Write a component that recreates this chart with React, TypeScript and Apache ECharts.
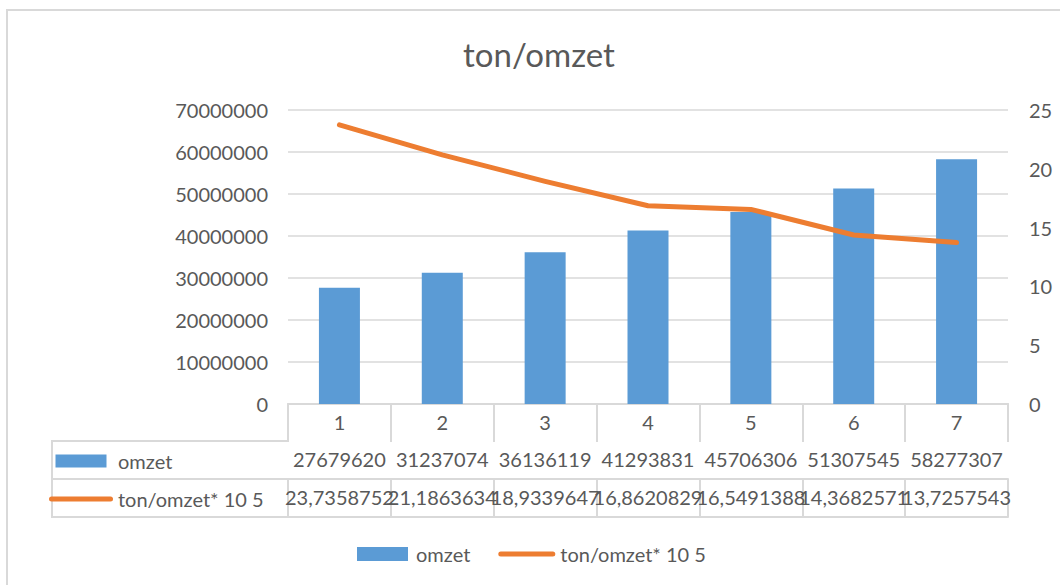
import React, { useEffect, useRef } from "react";
import * as echarts from "echarts";

const categories = ["1", "2", "3", "4", "5", "6", "7"];
const omzet = [27679620, 31237074, 36136119, 41293831, 45706306, 51307545, 58277307];
const tonOmzet = [23.7358752, 21.1863634, 18.9339647, 16.8620829, 16.5491388, 14.3682571, 13.7257543];
const seriesNames = ["omzet", "ton/omzet* 10 5"];
const leftTicks = { min: 0, max: 70000000, interval: 10000000 };
const rightTicks = { min: 0, max: 25, interval: 5 };

const BLUE = "#5B9BD5";
const ORANGE = "#ED7D31";
const GRID = "#D9D9D9";
const TEXT = "#595959";
const FONT = "Lato";

const fmtComma = (v: number) => String(v).replace(".", ",");

export default function App() {
  const ref = useRef<HTMLDivElement>(null);
  useEffect(() => {
    if (!ref.current) return;
    const chart = echarts.init(ref.current, undefined, { renderer: "svg" });
    const tableLine = { color: GRID, width: 2 };
    const label = { fontFamily: FONT, fontSize: 20, color: TEXT };
    const barIconBottom = "path://M0,0 H51 V14 H0 Z";
    const lineIconBottom = "path://M2.5,0 H54.5 A2.5,2.5 0 0 1 54.5,5 H2.5 A2.5,2.5 0 0 1 2.5,0 Z";
    const barIconTable = "path://M0,0 H51 V13 H0 Z";
    const lineIconTable = "path://M2.5,0 H61.5 A2.5,2.5 0 0 1 61.5,5 H2.5 A2.5,2.5 0 0 1 2.5,0 Z";
    chart.setOption({
      animation: false,
      textStyle: { fontFamily: FONT },
      title: {
        text: "ton/omzet",
        left: 539,
        textAlign: "center",
        top: 37,
        padding: 0,
        textStyle: { fontFamily: FONT, fontSize: 33, fontWeight: "normal", color: TEXT },
      },
      grid: { left: 288, right: 52, top: 110, bottom: 181, containLabel: false },
      legend: [
        {
          left: 357,
          top: 544,
          padding: 0,
          itemWidth: 57,
          itemHeight: 14,
          itemGap: 28,
          textStyle: label,
          data: [
            { name: seriesNames[0], icon: barIconBottom, itemStyle: { color: BLUE, borderWidth: 0 } },
            { name: seriesNames[1], icon: lineIconBottom, itemStyle: { color: ORANGE, borderWidth: 0 } },
          ],
        },
        {
          left: 49,
          top: 451,
          padding: 0,
          orient: "vertical",
          itemWidth: 64,
          itemHeight: 13,
          itemGap: 18,
          textStyle: label,
          data: [
            { name: seriesNames[0], icon: barIconTable, itemStyle: { color: BLUE, borderWidth: 0 } },
            { name: seriesNames[1], icon: lineIconTable, itemStyle: { color: ORANGE, borderWidth: 0 } },
          ],
        },
      ],
      xAxis: [
        {
          type: "category",
          data: categories,
          position: "bottom",
          axisLine: { show: true, lineStyle: tableLine },
          axisTick: { show: true, length: 37, interval: 0, lineStyle: tableLine },
          axisLabel: { ...label, margin: 8, interval: 0 },
        },
        {
          type: "category",
          data: omzet.map(String),
          position: "bottom",
          offset: 37,
          axisLine: { show: true, lineStyle: tableLine },
          axisTick: { show: true, length: 38, interval: 0, lineStyle: tableLine },
          axisLabel: { ...label, margin: 8, interval: 0 },
        },
        {
          type: "category",
          data: tonOmzet.map(fmtComma),
          position: "bottom",
          offset: 75,
          axisLine: { show: true, lineStyle: tableLine },
          axisTick: { show: true, length: 38, interval: 0, lineStyle: tableLine },
          axisLabel: { ...label, margin: 8, interval: 0 },
        },
        {
          type: "category",
          data: categories,
          position: "bottom",
          offset: 113,
          axisLine: { show: true, lineStyle: tableLine },
          axisTick: { show: false },
          axisLabel: { show: false },
        },
      ],
      yAxis: [
        {
          type: "value",
          position: "left",
          ...leftTicks,
          axisLine: { show: false },
          axisTick: { show: false },
          axisLabel: { ...label, margin: 20, formatter: (v: number) => String(v) },
          splitLine: { show: true, lineStyle: { color: GRID, width: 1.5 } },
        },
        {
          type: "value",
          position: "right",
          ...rightTicks,
          axisLine: { show: false },
          axisTick: { show: false },
          axisLabel: { ...label, margin: 21, formatter: (v: number) => String(v) },
          splitLine: { show: false },
        },
      ],
      series: [
        {
          name: seriesNames[0],
          type: "bar",
          xAxisIndex: 0,
          yAxisIndex: 0,
          data: omzet,
          barWidth: 41,
          itemStyle: { color: BLUE },
          z: 2,
        },
        {
          name: seriesNames[1],
          type: "line",
          xAxisIndex: 0,
          yAxisIndex: 1,
          data: tonOmzet,
          symbol: "none",
          lineStyle: { color: ORANGE, width: 5, cap: "round", join: "round" },
          itemStyle: { color: ORANGE },
          z: 3,
        },
      ],
      graphic: [
        {
          type: "rect",
          silent: true,
          z: -1,
          shape: { x: 7, y: 10, width: 1100, height: 700 },
          style: { fill: "none", stroke: GRID, lineWidth: 2 },
        },
        { type: "line", silent: true, shape: { x1: 52, y1: 441, x2: 288, y2: 441 }, style: { stroke: GRID, lineWidth: 2 } },
        { type: "line", silent: true, shape: { x1: 52, y1: 479, x2: 288, y2: 479 }, style: { stroke: GRID, lineWidth: 2 } },
        { type: "line", silent: true, shape: { x1: 52, y1: 517, x2: 288, y2: 517 }, style: { stroke: GRID, lineWidth: 2 } },
        { type: "line", silent: true, shape: { x1: 52, y1: 440, x2: 52, y2: 518 }, style: { stroke: GRID, lineWidth: 2 } },
      ],
    });
    return () => chart.dispose();
  }, []);
  return (
    <div
      ref={ref}
      style={{ position: "fixed", left: 0, top: 0, width: 1060, height: 585, background: "#fff" }}
    />
  );
}
